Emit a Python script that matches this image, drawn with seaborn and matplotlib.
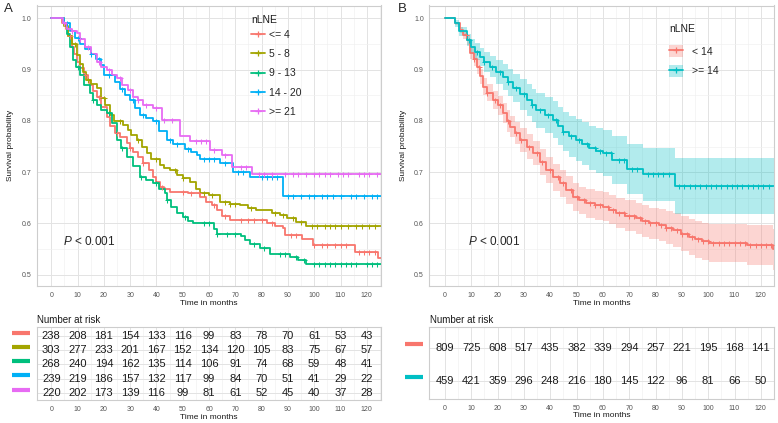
import numpy as np
import pandas as pd
import matplotlib
matplotlib.use('Agg')
import matplotlib.pyplot as plt
import seaborn as sns
from matplotlib.lines import Line2D
from matplotlib.patches import Patch
import matplotlib.transforms as mtrans

# ---------------- data: panel A ----------------
groups_a = ["<= 4", "5 - 8", "9 - 13", "14 - 20", ">= 21"]
colors_a = ["#F8766D", "#A3A500", "#00BF7D", "#00B0F6", "#E76BF3"]

t_le4 = [0, 4, 5.5, 6.5, 7.8, 8.5, 9.7, 11, 12.5, 14, 14.7, 16, 17.3, 19, 21, 22.5, 24.2, 26, 28.7, 30, 31, 33, 35, 37, 38.7, 40, 41.3, 43, 45, 52, 56.5, 59, 61, 62.9, 65, 68, 82, 85, 88.2, 89, 95.2, 99.6, 115.5, 124.2, 125.5]
s_le4 = [1.0, 0.99, 0.98, 0.965, 0.945, 0.93, 0.915, 0.903, 0.89, 0.88, 0.87, 0.858, 0.847, 0.828, 0.808, 0.79, 0.776, 0.768, 0.757, 0.748, 0.74, 0.73, 0.718, 0.705, 0.691, 0.68, 0.672, 0.667, 0.662, 0.66, 0.652, 0.642, 0.635, 0.626, 0.615, 0.607, 0.6, 0.595, 0.591, 0.578, 0.57, 0.558, 0.545, 0.532, 0.532]

t_5_8 = [0, 5, 6.5, 8, 9.6, 11, 12.2, 13.2, 15, 17.3, 19, 20.5, 22.3, 24, 27.3, 29, 30.5, 32.5, 34.5, 36.3, 38, 41.3, 43, 45.1, 48, 50, 52.7, 55, 56.5, 60, 64.1, 68, 71.7, 75, 78, 84, 87, 89.5, 93, 97, 125.5]
s_5_8 = [1.0, 0.985, 0.965, 0.95, 0.928, 0.91, 0.896, 0.88, 0.872, 0.864, 0.845, 0.83, 0.812, 0.8, 0.792, 0.783, 0.772, 0.763, 0.75, 0.737, 0.726, 0.714, 0.708, 0.704, 0.695, 0.688, 0.681, 0.668, 0.659, 0.655, 0.642, 0.638, 0.636, 0.63, 0.626, 0.62, 0.617, 0.61, 0.603, 0.595, 0.595]

t_9_13 = [0, 4.5, 6, 7, 8.4, 9.5, 10.9, 12.5, 14.7, 16, 17.3, 19, 21, 23, 24.9, 26.5, 28.7, 31, 33.7, 36, 38.8, 41, 43.2, 43.9, 45.5, 47.7, 50, 52, 54, 61.8, 63, 72, 73.5, 75.6, 79.4, 83.2, 90.8, 94, 97, 125.5]
s_9_13 = [1.0, 0.99, 0.97, 0.945, 0.919, 0.905, 0.889, 0.87, 0.854, 0.84, 0.831, 0.822, 0.815, 0.795, 0.763, 0.748, 0.73, 0.712, 0.691, 0.685, 0.678, 0.668, 0.659, 0.646, 0.632, 0.62, 0.612, 0.605, 0.6, 0.59, 0.58, 0.575, 0.568, 0.56, 0.553, 0.54, 0.535, 0.528, 0.521, 0.521]

t_14_20 = [0, 5, 7, 9, 11, 13, 15, 17, 19, 20, 24.2, 26, 28, 30, 32, 33.7, 36, 38.8, 41, 43.9, 46.4, 50.8, 53, 55.3, 56.5, 64.1, 69.2, 75.6, 88, 125.5]
s_14_20 = [1.0, 0.99, 0.975, 0.962, 0.95, 0.94, 0.93, 0.92, 0.909, 0.889, 0.876, 0.862, 0.85, 0.841, 0.826, 0.812, 0.806, 0.8, 0.78, 0.763, 0.755, 0.745, 0.74, 0.733, 0.725, 0.718, 0.701, 0.691, 0.654, 0.654]

t_ge21 = [0, 4.5, 6, 8, 9.6, 11, 13, 15, 17.3, 19, 21, 23, 25, 27, 29, 31, 33, 35, 38.7, 42, 49, 52.8, 60.3, 64.9, 68.6, 76.2, 125.5]
s_ge21 = [1.0, 0.99, 0.98, 0.975, 0.971, 0.96, 0.945, 0.93, 0.915, 0.905, 0.9, 0.89, 0.883, 0.87, 0.86, 0.847, 0.84, 0.83, 0.825, 0.802, 0.771, 0.761, 0.743, 0.733, 0.711, 0.696, 0.696]

cens_le4 = [7, 13, 18, 25, 30, 35, 42, 50, 53, 56, 62, 66, 72, 75, 77, 80, 84, 91, 93, 100, 103, 105, 108, 110, 112, 117, 119, 121, 123]
cens_5_8 = [9, 14, 20, 26, 33, 40, 47, 50, 58, 61, 66, 68, 70, 76, 85, 88, 92, 95, 99, 101, 104, 106, 108, 110, 113, 116, 118, 121, 123]
cens_9_13 = [10, 16, 22, 27, 34, 40, 44, 51, 58, 60, 63, 67, 70, 77, 81, 87, 89, 93, 96, 100, 102, 104, 106, 108, 110, 112, 114, 116, 120, 122, 124]
cens_14_20 = [6, 10, 15, 18, 22, 27, 31, 35, 40, 45, 48, 52, 58, 60, 62, 66, 71, 73, 80, 82, 84, 86, 90, 92, 95, 98, 100, 103, 105, 107, 110, 114, 116, 119, 122, 124]
cens_ge21 = [5, 8, 11, 14, 18, 22, 26, 30, 33, 36, 40, 43, 46, 55, 57, 59, 62, 66, 72, 74, 79, 81, 84, 89, 92, 94, 97, 100, 102, 104, 106, 109, 111, 113, 117, 119, 121, 124]

risk_times = [0, 10, 20, 30, 40, 50, 60, 70, 80, 90, 100, 110, 120]
risk_le4 = [238, 208, 181, 154, 133, 116, 99, 83, 78, 70, 61, 53, 43]
risk_5_8 = [303, 277, 233, 201, 167, 152, 134, 120, 105, 83, 75, 67, 57]
risk_9_13 = [268, 240, 194, 162, 135, 114, 106, 91, 74, 68, 59, 48, 41]
risk_14_20 = [239, 219, 186, 157, 132, 117, 99, 84, 70, 51, 41, 29, 22]
risk_ge21 = [220, 202, 173, 139, 116, 99, 81, 61, 52, 45, 40, 37, 28]

# ---------------- data: panel B ----------------
groups_b = ["< 14", ">= 14"]
colors_b = ["#F8766D", "#00BFC4"]

t_lt14 = [0, 4, 5.7, 7, 8.2, 9.5, 11, 12, 13.3, 14.5, 16, 18.3, 20, 22, 23.5, 24.6, 26.5, 28.4, 31, 33.4, 36, 38.4, 41, 43.6, 46, 48.6, 51, 53.7, 57, 60, 62.5, 65, 68.5, 72.6, 75, 77.7, 81.4, 84, 86.5, 89.5, 92.8, 95, 97.8, 100.4, 114.9, 124.6, 125.5]
s_lt14 = [1.0, 0.99, 0.977, 0.968, 0.958, 0.932, 0.92, 0.906, 0.887, 0.867, 0.855, 0.841, 0.83, 0.815, 0.8, 0.789, 0.776, 0.763, 0.75, 0.737, 0.72, 0.704, 0.69, 0.678, 0.665, 0.652, 0.645, 0.639, 0.635, 0.633, 0.627, 0.62, 0.615, 0.61, 0.605, 0.6, 0.597, 0.592, 0.587, 0.58, 0.574, 0.569, 0.565, 0.561, 0.557, 0.55, 0.55]
hw_lt14 = [0.0, 0.003, 0.006, 0.008, 0.01, 0.012, 0.013, 0.014, 0.015, 0.016, 0.017, 0.018, 0.019, 0.02, 0.021, 0.021, 0.022, 0.023, 0.024, 0.024, 0.025, 0.025, 0.026, 0.026, 0.027, 0.027, 0.027, 0.028, 0.028, 0.028, 0.029, 0.029, 0.03, 0.03, 0.031, 0.031, 0.032, 0.033, 0.033, 0.034, 0.035, 0.036, 0.036, 0.037, 0.039, 0.04, 0.04]

t_ge14 = [0, 3.8, 5.5, 8.2, 10, 11.5, 13.3, 15, 17, 19.5, 22, 24, 25.9, 28.5, 31, 33, 34.7, 38, 41, 43, 44.8, 47, 49.9, 52, 54.9, 57.5, 60, 63.5, 69, 75.1, 87.5, 125.5]
s_ge14 = [1.0, 0.99, 0.975, 0.958, 0.945, 0.935, 0.925, 0.915, 0.906, 0.895, 0.886, 0.875, 0.864, 0.852, 0.841, 0.83, 0.821, 0.812, 0.802, 0.79, 0.779, 0.77, 0.763, 0.755, 0.747, 0.742, 0.737, 0.724, 0.706, 0.696, 0.673, 0.673]
hw_ge14 = [0.0, 0.006, 0.009, 0.012, 0.014, 0.016, 0.018, 0.019, 0.021, 0.023, 0.025, 0.027, 0.028, 0.03, 0.031, 0.032, 0.034, 0.035, 0.036, 0.037, 0.038, 0.04, 0.041, 0.042, 0.043, 0.044, 0.045, 0.047, 0.049, 0.052, 0.055, 0.055]

cens_lt14 = [8, 11, 13, 16, 19, 21, 24, 27, 29, 32, 35, 37, 40, 43, 45, 48, 50, 53, 55, 57, 59, 62, 64, 66, 68, 70, 72, 74, 76, 78, 80, 82, 84, 86, 88, 90, 92, 94, 96, 98, 100, 102, 104, 106, 108, 110, 112, 114, 116, 118, 120, 122, 124]
cens_ge14 = [9, 12, 15, 18, 21, 24, 27, 30, 33, 36, 39, 42, 45, 48, 51, 54, 57, 59, 61, 63, 66, 68, 71, 73, 77, 79, 81, 83, 85, 89, 91, 93, 95, 97, 99, 101, 103, 105, 107, 109, 111, 113, 115, 117, 119, 121, 123]

risk_lt14 = [809, 725, 608, 517, 435, 382, 339, 294, 257, 221, 195, 168, 141]
risk_ge14 = [459, 421, 359, 296, 248, 216, 180, 145, 122, 96, 81, 66, 50]

# ---------------- styling ----------------
sns.set_style("white")
plt.rcParams['font.family'] = ['Liberation Sans', 'DejaVu Sans']
plt.rcParams['mathtext.fontset'] = 'custom'
plt.rcParams['mathtext.rm'] = 'Liberation Sans'
plt.rcParams['mathtext.it'] = 'Liberation Sans:italic'

W, H = 778, 423
fig = plt.figure(figsize=(W / 100, H / 100), dpi=100)
fig.patch.set_facecolor('white')


def ax_px(l, t, r, b):
    return fig.add_axes([l / W, 1 - b / H, (r - l) / W, (b - t) / H])


def style_panel(ax, xlim, ylim):
    ax.set_xlim(xlim)
    ax.set_ylim(ylim)
    ax.set_xticks(range(0, 121, 10))
    ax.set_xticks(range(5, 126, 10), minor=True)
    ax.grid(which='major', color='#E3E3E3', lw=0.7)
    ax.grid(which='minor', color='#F0F0F0', lw=0.45)
    for s in ax.spines.values():
        s.set_color('#CDCDCD')
        s.set_linewidth(0.8)
    ax.tick_params(which='major', length=2.5, width=0.6, color='#A0A0A0',
                   labelsize=5, labelcolor='#555555', pad=1.5)
    ax.tick_params(which='minor', length=0)
    ax.set_axisbelow(True)


def long_df(ts, ss, names):
    rows = []
    for t, s, n in zip(ts, ss, names):
        for a, b in zip(t, s):
            rows.append((a, b, n))
    return pd.DataFrame(rows, columns=['time', 'surv', 'group'])


def surv_at(t, s, c):
    idx = np.searchsorted(np.asarray(t), np.asarray(c), side='right') - 1
    return np.asarray(s)[idx]


def main_panel(ax, ts, ss, cens, names, cols, xlim, ylim, ylab_x):
    style_panel(ax, xlim, ylim)
    ax.set_yticks([0.5, 0.6, 0.7, 0.8, 0.9, 1.0])
    ax.set_yticks([0.55, 0.65, 0.75, 0.85, 0.95], minor=True)
    ax.set_yticklabels(['0.5', '0.6', '0.7', '0.8', '0.9', '1.0'])
    df = long_df(ts, ss, names)
    sns.lineplot(data=df, x='time', y='surv', hue='group', hue_order=names,
                 palette=dict(zip(names, cols)), drawstyle='steps-post',
                 estimator=None, ax=ax, legend=False, linewidth=1.3)
    for t, s, c, col in zip(ts, ss, cens, cols):
        ax.plot(c, surv_at(t, s, c), linestyle='none', marker='+',
                markersize=3.6, markeredgewidth=0.75, color=col, zorder=4)
    ax.set_xlabel('Time in months', fontsize=6, color='#1A1A1A')
    ax.xaxis.set_label_coords(0.5, -0.062)
    ax.xaxis.label.set_va('center')
    ax.set_ylabel('Survival probability', fontsize=6, color='#1A1A1A')
    ax.yaxis.set_label_coords(ylab_x, 0.5)
    ax.yaxis.label.set_va('center')


def risk_panel(ax, counts, cols, xlim, ylim, fs, bar_x, bar_off):
    n = len(counts)
    style_panel(ax, xlim, ylim)
    ax.set_yticks(range(1, n + 1))
    ax.set_yticklabels([])
    ax.tick_params(axis='y', length=0)
    for i, row in enumerate(counts):
        y = n - i
        for t, v in zip(risk_times, row):
            ax.text(t, y, str(v), ha='center', va='center', fontsize=fs, color='#1A1A1A')
        tr = mtrans.blended_transform_factory(ax.transAxes, ax.transData)
        ax.plot(bar_x, [y + bar_off, y + bar_off], color=cols[i], lw=3,
                transform=tr, clip_on=False, solid_capstyle='butt')
    ax.set_xlabel('Time in months', fontsize=6, color='#1A1A1A')
    ax.xaxis.set_label_coords(0.5, -0.235)
    ax.xaxis.label.set_va('center')


# ---------- Panel A ----------
axA = ax_px(36.7, 5.5, 381, 286)
main_panel(axA,
           [t_le4, t_5_8, t_9_13, t_14_20, t_ge21],
           [s_le4, s_5_8, s_9_13, s_14_20, s_ge21],
           [cens_le4, cens_5_8, cens_9_13, cens_14_20, cens_ge21],
           groups_a, colors_a, (-5.55, 125.4), (0.478, 1.025), -0.0775)
axA.text(4.5, 0.565, r'$\mathit{P}$ < 0.001', fontsize=8.5, ha='left', va='center')

hA = [Line2D([0], [0], color=c, lw=1.3, marker='+', markersize=5, markeredgewidth=0.9)
      for c in colors_a]
legA = axA.legend(hA, groups_a, loc='upper left',
                  bbox_to_anchor=(251 / W, 1 - 29.5 / H), bbox_transform=fig.transFigure,
                  frameon=False, fontsize=7.5, borderpad=0,
                  labelspacing=0.9, handlelength=1.35, handletextpad=0.4,
                  borderaxespad=0)
fig.text(251 / W, 1 - 20 / H, 'nLNE', fontsize=7.5, ha='left', va='center', color='#1A1A1A')

tabA = ax_px(36.7, 326.7, 381, 400)
risk_panel(tabA, [risk_le4, risk_5_8, risk_9_13, risk_14_20, risk_ge21], colors_a,
           (-5.55, 125.4), (0.48, 5.68), 8, [-0.0717, -0.0195], 0.22)
fig.text(36.7 / W, 1 - 319.5 / H, 'Number at risk', fontsize=7, ha='left', va='center', color='#1A1A1A')

# ---------- Panel B ----------
axB = ax_px(429.3, 5.5, 774, 286)
main_panel(axB, [t_lt14, t_ge14], [s_lt14, s_ge14], [cens_lt14, cens_ge14],
           groups_b, colors_b, (-5.94, 124.4), (0.478, 1.025), -0.0754)
for t, s, hw, col in zip([t_lt14, t_ge14], [s_lt14, s_ge14], [hw_lt14, hw_ge14], colors_b):
    s_ = np.asarray(s)
    h_ = np.asarray(hw)
    axB.fill_between(t, s_ - h_, s_ + h_, step='post', color=col, alpha=0.3, lw=0, zorder=1.5)
axB.text(8.6, 0.565, r'$\mathit{P}$ < 0.001', fontsize=8.5, ha='left', va='center')

hB = [(Patch(facecolor=c, alpha=0.3, edgecolor='none'),
       Line2D([0], [0], color=c, lw=1.3, marker='+', markersize=5, markeredgewidth=0.9))
      for c in colors_b]
legB = axB.legend(hB, groups_b, loc='upper left',
                  bbox_to_anchor=(669 / W, 1 - 45.5 / H), bbox_transform=fig.transFigure,
                  frameon=False, fontsize=7.5, borderpad=0,
                  labelspacing=0.8, handlelength=1.35, handleheight=1.3,
                  handletextpad=0.9, borderaxespad=0)
fig.text(669 / W, 1 - 29 / H, 'nLNE', fontsize=7.5, ha='left', va='center', color='#1A1A1A')

tabB = ax_px(429.3, 327, 774, 399)
risk_panel(tabB, [risk_lt14, risk_ge14], colors_b, (-5.94, 124.4), (0.46, 2.62), 8,
           [-0.0705, -0.0174], 0.12)
fig.text(430 / W, 1 - 319.5 / H, 'Number at risk', fontsize=7, ha='left', va='center', color='#1A1A1A')

# panel letters
fig.text(4 / W, 1 - 9 / H, 'A', fontsize=9.5, ha='left', va='center')
fig.text(398 / W, 1 - 9 / H, 'B', fontsize=9.5, ha='left', va='center')

fig.savefig('out.png', dpi=100, facecolor='white')
